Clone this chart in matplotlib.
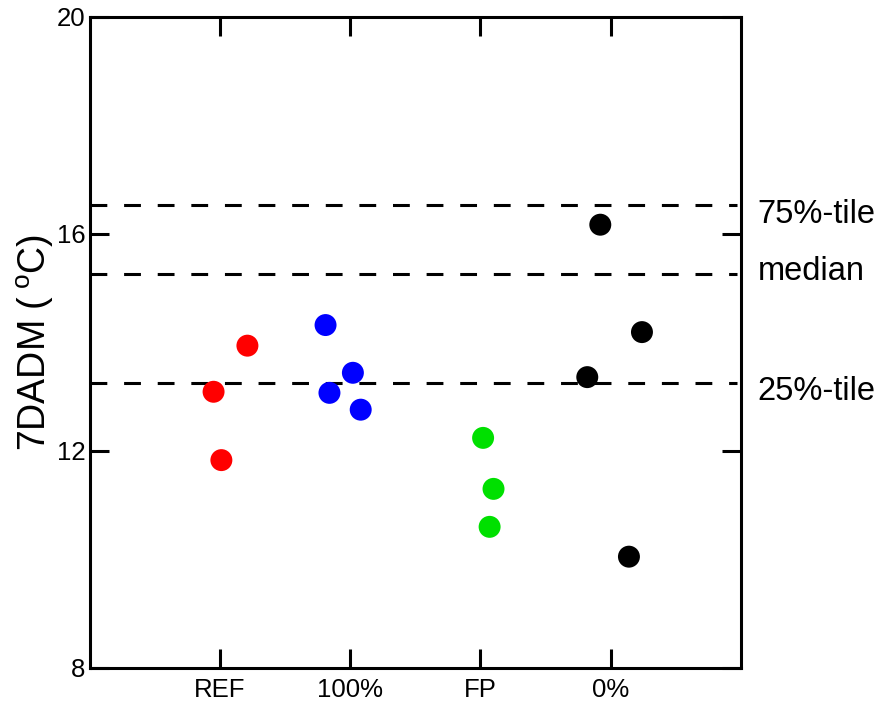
import numpy as np
import matplotlib
matplotlib.use("Agg")
from matplotlib import pyplot as plt

plt.rcParams['font.family'] = ['Liberation Sans', 'DejaVu Sans']
plt.rcParams['mathtext.fontset'] = 'custom'
plt.rcParams['mathtext.rm'] = 'Liberation Sans'

# groups along x (positions 1..4)
groups = ["REF", "100%", "FP", "0%"]
colors = ["#ff0000", "#0000ff", "#00e000", "#000000"]

# jittered x positions and 7DADM values
ref_x = [0.95, 1.21, 1.01]
ref_y = [13.09, 13.94, 11.83]
p100_x = [1.81, 2.02, 1.84, 2.08]
p100_y = [14.32, 13.44, 13.07, 12.76]
fp_x = [3.02, 3.10, 3.07]
fp_y = [12.24, 11.30, 10.60]
p0_x = [3.92, 4.24, 3.82, 4.14]
p0_y = [16.17, 14.19, 13.36, 10.05]

# reference percentile lines
pct_names = ["75%-tile", "median", "25%-tile"]
pct_vals = [16.53, 15.26, 13.25]

fig = plt.figure(figsize=(8.81, 7.06), dpi=100)
ax = fig.add_axes([0.102, 0.054, 0.739, 0.922])

xs = [ref_x, p100_x, fp_x, p0_x]
ys = [ref_y, p100_y, fp_y, p0_y]
for x, y, c in zip(xs, ys, colors):
    ax.scatter(x, y, s=250, color=c, edgecolors='none', zorder=3)

for name, v in zip(pct_names, pct_vals):
    ax.plot([0, 4.97], [v, v], color='black', lw=2.2, dashes=(5.5, 5.5), zorder=2)

ax.text(5.13, pct_vals[0] - 0.17, pct_names[0], fontsize=23.5, va='center', ha='left')
ax.text(5.13, pct_vals[1] + 0.05, pct_names[1], fontsize=23.5, va='center', ha='left')
ax.text(5.13, pct_vals[2] - 0.15, pct_names[2], fontsize=23.5, va='center', ha='left')

ax.set_xlim(0, 5)
ax.set_ylim(8, 20)
ax.set_xticks([1, 2, 3, 4])
ax.set_xticklabels(groups)
ax.set_yticks([8, 12, 16, 20])
ax.tick_params(direction='in', length=14, width=2.2, labelsize=18.5,
               top=True, right=True, pad=7)
ax.tick_params(axis='y', pad=3)
for sp in ax.spines.values():
    sp.set_linewidth(2.2)

# "7" kept apart so mathtext does not kern it into the "D"
ax.set_ylabel("$\\mathrm{7}$DADM (\u2009$^{\\mathrm{o}}$C)", fontsize=27, labelpad=1)

fig.savefig("out.png", dpi=100)
